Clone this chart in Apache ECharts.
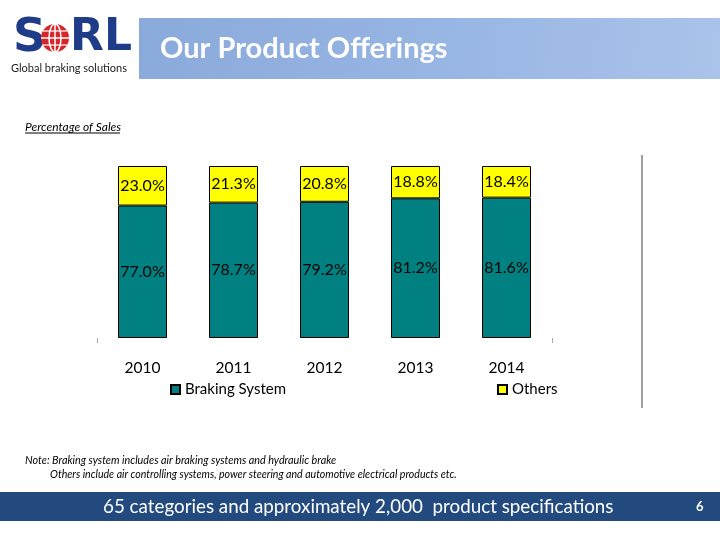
<!DOCTYPE html>
<html>
<head>
<meta charset="utf-8">
<script src="https://cdn.jsdelivr.net/npm/echarts@6/dist/echarts.min.js"></script>
<style>html,body{margin:0;padding:0;background:#fff;}#c{width:720px;height:540px;}</style>
</head>
<body>
<div id="c"></div>
<script>
const years = ['2010', '2011', '2012', '2013', '2014'];
const brakingSystem = [77.0, 78.7, 79.2, 81.2, 81.6];
const others = [23.0, 21.3, 20.8, 18.8, 18.4];

const chart = echarts.init(document.getElementById('c'));
const F = 'Lato, "Noto Sans", sans-serif';
const fmt = p => p.value.toFixed(1) + '%';

chart.setOption({
  animation: false,
  backgroundColor: '#ffffff',
  grid: { left: 97, right: 168, top: 166, bottom: 202 },
  xAxis: [
    {
      type: 'category', data: years,
      axisLine: { show: false }, axisTick: { show: false },
      axisLabel: { color: '#000', fontFamily: F, fontSize: 15.5, margin: 22 }
    },
    {
      type: 'value', min: 0, max: 1, interval: 1, position: 'bottom',
      axisLine: { show: false },
      axisTick: { show: true, length: 5, lineStyle: { color: '#aaaaaa' } },
      axisLabel: { show: false }, splitLine: { show: false }
    }
  ],
  yAxis: { type: 'value', min: 0, max: 100, show: false, splitLine: { show: false } },
  legend: [
    { data: ['Braking System'], left: 165, top: 377, icon: 'rect', itemWidth: 9, itemHeight: 9,
      textStyle: { fontFamily: F, fontSize: 15, color: '#000' } },
    { data: ['Others'], left: 492, top: 377, icon: 'rect', itemWidth: 9, itemHeight: 9,
      textStyle: { fontFamily: F, fontSize: 15, color: '#000' } }
  ],
  series: [
    { name: 'Braking System', type: 'bar', stack: 's', data: brakingSystem, barWidth: 49,
      itemStyle: { color: '#008080', borderColor: '#000', borderWidth: 1 },
      label: { show: true, position: 'inside', formatter: fmt, color: '#000', fontFamily: F, fontSize: 16 } },
    { name: 'Others', type: 'bar', stack: 's', data: others, barWidth: 49,
      itemStyle: { color: '#ffff00', borderColor: '#000', borderWidth: 1 },
      label: { show: true, position: 'inside', formatter: fmt, color: '#000', fontFamily: F, fontSize: 16 } }
  ],
  graphic: [
    // title banner
    { type: 'rect', shape: { x: 139, y: 18, width: 581, height: 61 }, z: 0,
      style: { fill: new echarts.graphic.LinearGradient(0, 0, 1, 1, [
        { offset: 0, color: '#8aaadb' }, { offset: 0.5, color: '#97b5e3' }, { offset: 1, color: '#a9c3ea' }]) } },
    { type: 'text', x: 160, y: 49, z: 2,
      style: { text: 'Our Product Offerings', fill: '#ffffff', font: 'bold 29px ' + F, verticalAlign: 'middle' } },
    // logo
    { type: 'text', x: 13, y: 39, z: 2,
      style: { text: 'S', fill: '#1f3c88', font: 'bold 46px "DejaVu Sans", sans-serif', verticalAlign: 'middle' } },
    { type: 'circle', shape: { cx: 55, cy: 38, r: 14 }, z: 2, style: { fill: '#d7262a' } },
    { type: 'ellipse', shape: { cx: 55, cy: 38, rx: 6, ry: 14 }, z: 3, style: { fill: 'none', stroke: '#fff', lineWidth: 1.5 } },
    { type: 'line', shape: { x1: 55, y1: 24, x2: 55, y2: 52 }, z: 3, style: { stroke: '#fff', lineWidth: 1.5 } },
    { type: 'line', shape: { x1: 41, y1: 38, x2: 69, y2: 38 }, z: 3, style: { stroke: '#fff', lineWidth: 1.5 } },
    { type: 'line', shape: { x1: 43, y1: 31, x2: 67, y2: 31 }, z: 3, style: { stroke: '#fff', lineWidth: 1.2 } },
    { type: 'line', shape: { x1: 43, y1: 45, x2: 67, y2: 45 }, z: 3, style: { stroke: '#fff', lineWidth: 1.2 } },
    { type: 'text', x: 70, y: 39, z: 2,
      style: { text: 'RL', fill: '#1f3c88', font: 'bold 44px "DejaVu Sans", sans-serif', verticalAlign: 'middle' } },
    { type: 'text', x: 11, y: 68, z: 2,
      style: { text: 'Global braking solutions', fill: '#222', font: '11px ' + F, verticalAlign: 'middle' } },
    // subtitle
    { type: 'text', x: 25, y: 127, z: 2,
      style: { text: 'Percentage of Sales', fill: '#000', font: 'italic 12px ' + F, verticalAlign: 'middle' } },
    { type: 'line', shape: { x1: 25, y1: 133, x2: 120, y2: 133 }, z: 2, style: { stroke: '#000', lineWidth: 1 } },
    // right border line
    { type: 'line', shape: { x1: 642, y1: 155, x2: 642, y2: 408 }, z: 2, style: { stroke: '#808080', lineWidth: 1.5 } },
    // notes
    { type: 'text', x: 25, y: 461, z: 2,
      style: { text: 'Note: Braking system includes air braking systems and hydraulic brake', fill: '#000', font: 'italic 10.8px ' + F, verticalAlign: 'middle' } },
    { type: 'text', x: 50, y: 475, z: 2,
      style: { text: 'Others include air controlling systems, power steering and automotive electrical products etc.', fill: '#000', font: 'italic 10.6px ' + F, verticalAlign: 'middle' } },
    // bottom banner
    { type: 'rect', shape: { x: 0, y: 492, width: 720, height: 29 }, z: 0, style: { fill: '#234a7e' } },
    { type: 'text', x: 103, y: 507, z: 2,
      style: { text: '65 categories and approximately 2,000  product specifications', fill: '#ffffff', font: '18.8px ' + F, verticalAlign: 'middle' } },
    { type: 'text', x: 696, y: 507, z: 2,
      style: { text: '6', fill: '#ffffff', font: 'bold 13px ' + F, verticalAlign: 'middle' } }
  ]
});
</script>
</body>
</html>
